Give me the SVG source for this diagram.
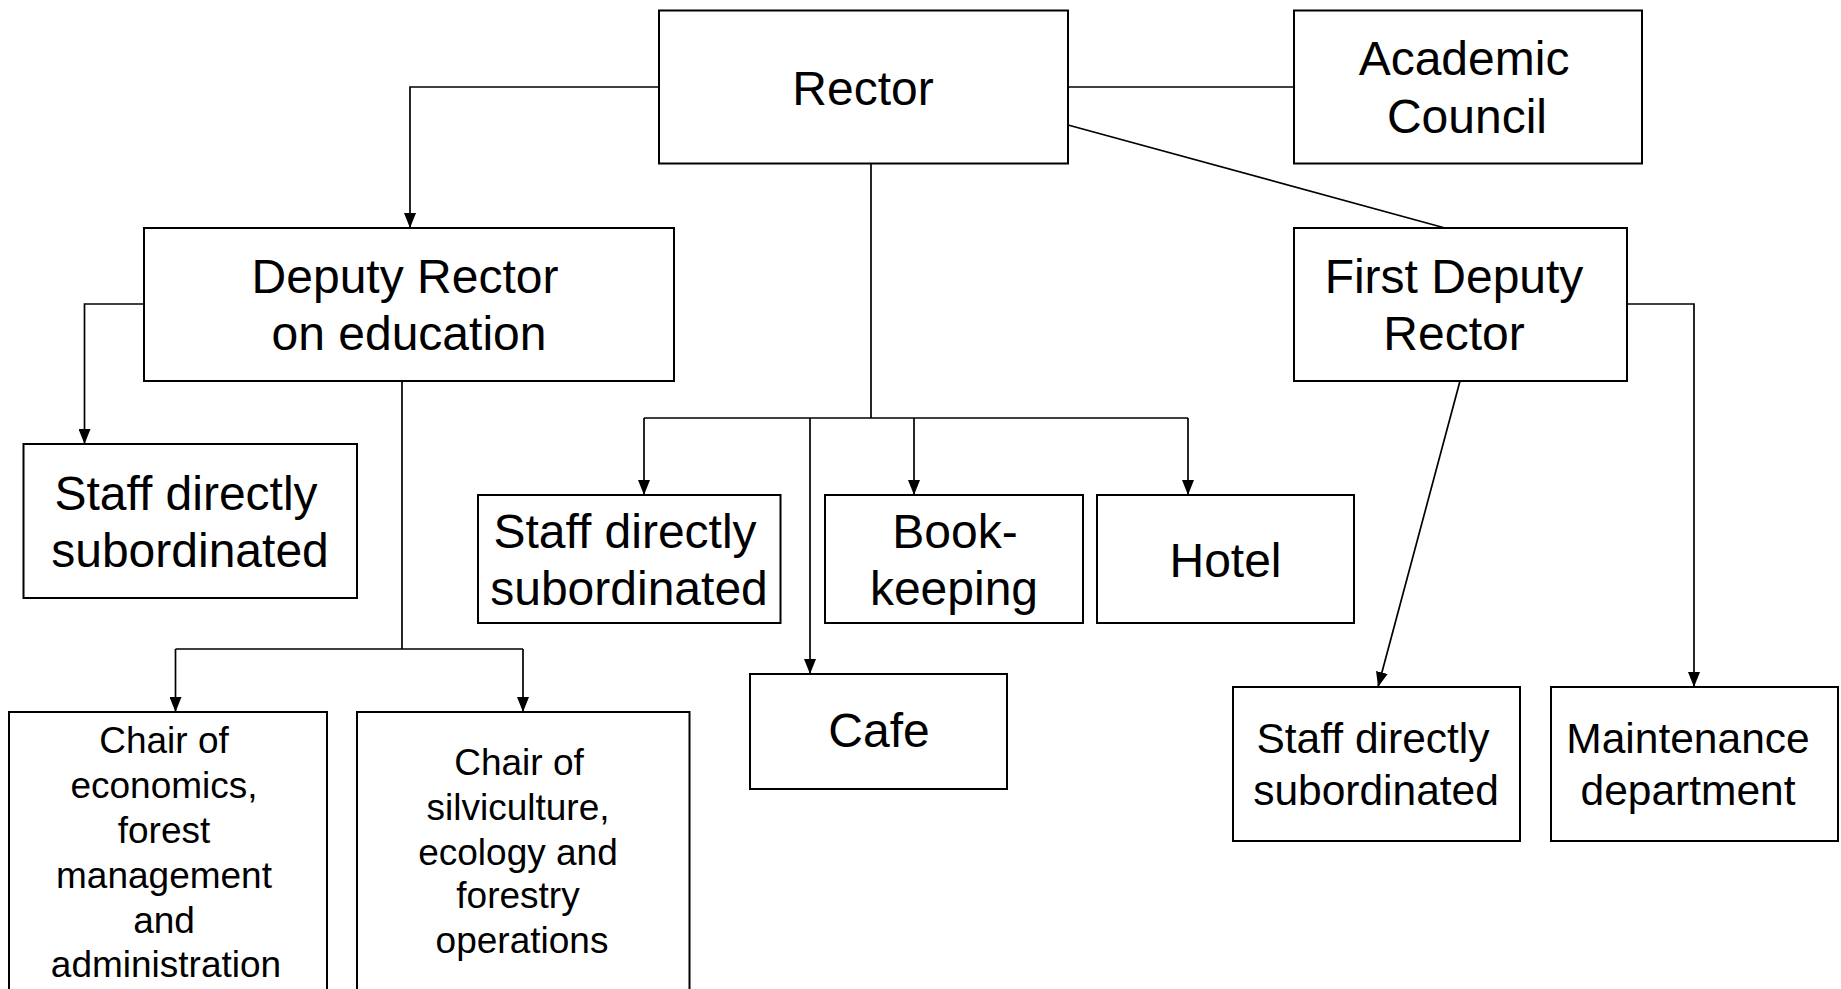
<svg xmlns="http://www.w3.org/2000/svg" width="1841" height="989" viewBox="0 0 1841 989">
<defs>
<style>
.box{fill:#fff;stroke:#000;stroke-width:2}
.ln{fill:none;stroke:#000;stroke-width:1.7}
text{font-family:"Liberation Sans",Arial,sans-serif;fill:#000;text-anchor:middle}
.f48{font-size:48px}
.f43{font-size:42.5px}
.f37{font-size:37px}
</style>
<marker id="ar" viewBox="0 -6 15 12" markerWidth="15" markerHeight="12" refX="15" refY="0" orient="auto" markerUnits="userSpaceOnUse">
<path d="M0,-6 L15,0 L0,6 z" fill="#000"/>
</marker>
</defs>
<rect width="1841" height="989" fill="#fff"/>
<g id="connectors">
<path class="ln" d="M659,87 H410 V228" marker-end="url(#ar)"/>
<path class="ln" d="M1068,87 H1294"/>
<path class="ln" d="M1068,125 L1445,228"/>
<path class="ln" d="M144,304 H84.5 V444" marker-end="url(#ar)"/>
<path class="ln" d="M402,381 V649 M175.5,649 H523"/>
<path class="ln" d="M175.5,649 V712" marker-end="url(#ar)"/>
<path class="ln" d="M523,649 V712" marker-end="url(#ar)"/>
<path class="ln" d="M871,163 V418 M644,418 H1188"/>
<path class="ln" d="M644,418 V495" marker-end="url(#ar)"/>
<path class="ln" d="M914,418 V495" marker-end="url(#ar)"/>
<path class="ln" d="M1188,418 V495" marker-end="url(#ar)"/>
<path class="ln" d="M810,418 V674" marker-end="url(#ar)"/>
<path class="ln" d="M1460,381 L1378,687" marker-end="url(#ar)"/>
<path class="ln" d="M1627,304 H1694 V687" marker-end="url(#ar)"/>
</g>
<g id="rector">
<rect class="box" x="659" y="10.5" width="409" height="153"/>
<text class="f48" x="863" y="105">Rector</text>
</g>
<g id="academic-council">
<rect class="box" x="1294" y="10.5" width="348" height="153"/>
<text class="f48" x="1464" y="75">Academic</text>
<text class="f48" x="1467" y="133">Council</text>
</g>
<g id="deputy-rector-education">
<rect class="box" x="144" y="228" width="530" height="153"/>
<text class="f48" x="405" y="293">Deputy Rector</text>
<text class="f48" x="409" y="350">on education</text>
</g>
<g id="first-deputy-rector">
<rect class="box" x="1294" y="228" width="333" height="153"/>
<text class="f48" x="1454" y="293">First Deputy</text>
<text class="f48" x="1454" y="350">Rector</text>
</g>
<g id="staff-deputy">
<rect class="box" x="23.5" y="444" width="333.5" height="154"/>
<text class="f48" x="186" y="510">Staff directly</text>
<text class="f48" x="190" y="567">subordinated</text>
</g>
<g id="staff-rector">
<rect class="box" x="478" y="495" width="302.5" height="128"/>
<text class="f48" x="625" y="548">Staff directly</text>
<text class="f48" x="629" y="605">subordinated</text>
</g>
<g id="bookkeeping">
<rect class="box" x="825" y="495" width="258" height="128"/>
<text class="f48" x="955" y="548">Book-</text>
<text class="f48" x="954" y="605">keeping</text>
</g>
<g id="hotel">
<rect class="box" x="1097" y="495" width="257" height="128"/>
<text class="f48" x="1225.5" y="577">Hotel</text>
</g>
<g id="cafe">
<rect class="box" x="750" y="674" width="257" height="115"/>
<text class="f48" x="879" y="747">Cafe</text>
</g>
<g id="chair-economics">
<rect class="box" x="9" y="712" width="318" height="300"/>
<text class="f37" x="164" y="753">Chair of</text>
<text class="f37" x="164" y="798">economics,</text>
<text class="f37" x="164" y="843">forest</text>
<text class="f37" x="164" y="888">management</text>
<text class="f37" x="164" y="933">and</text>
<text class="f37" x="166" y="977">administration</text>
</g>
<g id="chair-silviculture">
<rect class="box" x="357" y="712" width="332.5" height="300"/>
<text class="f37" x="519" y="775">Chair of</text>
<text class="f37" x="518" y="820">silviculture,</text>
<text class="f37" x="518" y="865">ecology and</text>
<text class="f37" x="518" y="908">forestry</text>
<text class="f37" x="522" y="953">operations</text>
</g>
<g id="staff-first-deputy">
<rect class="box" x="1233" y="687" width="287" height="154"/>
<text class="f43" x="1373" y="753">Staff directly</text>
<text class="f43" x="1376" y="805">subordinated</text>
</g>
<g id="maintenance">
<rect class="box" x="1551" y="687" width="287" height="154"/>
<text class="f43" x="1688" y="753">Maintenance</text>
<text class="f43" x="1688" y="805">department</text>
</g>
</svg>
